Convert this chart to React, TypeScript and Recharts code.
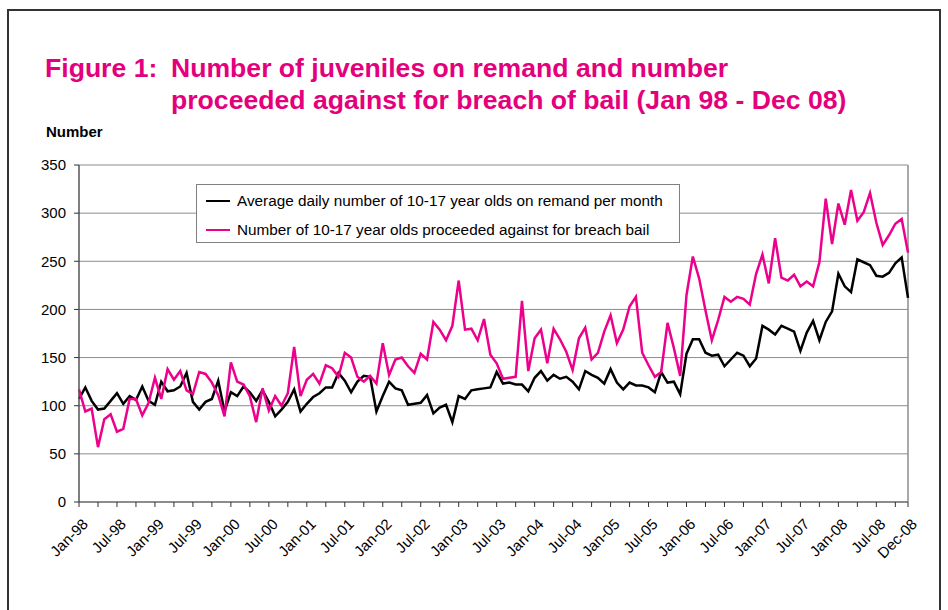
import { CartesianGrid, Legend, Line, LineChart, ReferenceLine, XAxis, YAxis } from "recharts";

/* monthly values, Jan-98 .. Dec-08 (132 months) */
const REMAND = [
  107, 119, 105, 96, 97, 105, 113, 102, 110, 106, 120, 105,
  101, 125, 115, 116, 120, 134, 104, 96, 104, 107, 126, 94,
  114, 110, 120, 114, 105, 116, 104, 89, 96, 104, 117, 94,
  102, 109, 113, 119, 119, 134, 126, 114, 125, 131, 130, 94,
  110, 125, 118, 116, 101, 102, 103, 111, 92, 98, 101, 83,
  110, 107, 116, 117, 118, 119, 135, 123, 124, 122, 122, 115,
  129, 136, 126, 132, 128, 130, 125, 117, 136, 132, 129, 123,
  138, 124, 117, 124, 121, 121, 119, 114, 135, 124, 125, 112,
  154, 169, 169, 155, 152, 153, 141, 148, 155, 152, 141, 149,
  183, 179, 174, 183, 180, 177, 157, 176, 188, 168, 187, 198,
  237, 224, 218, 252, 249, 246, 235, 234, 238, 248, 254, 212,
];

const BREACH = [
  117, 94, 97, 57, 86, 91, 73, 76, 107, 107, 90, 103,
  129, 107, 138, 127, 136, 116, 112, 135, 133, 124, 111, 89,
  145, 125, 122, 110, 83, 118, 95, 110, 100, 113, 161, 110,
  127, 133, 123, 142, 139, 130, 155, 150, 130, 125, 131, 123,
  165, 132, 148, 150, 141, 134, 154, 148, 187, 179, 168, 183,
  230, 179, 180, 168, 190, 153, 144, 128, 129, 130, 209, 136,
  170, 179, 144, 180, 169, 156, 137, 170, 181, 148, 155, 177,
  194, 165, 179, 203, 213, 155, 142, 130, 135, 186, 160, 131,
  215, 255, 232, 199, 168, 189, 213, 208, 213, 211, 205, 237,
  257, 227, 274, 233, 230, 236, 224, 229, 224, 249, 315, 268,
  310, 288, 324, 292, 301, 321, 290, 267, 277, 289, 294, 259,
];

const X_LABELS = [
  "Jan-98", "Jul-98", "Jan-99", "Jul-99", "Jan-00", "Jul-00", "Jan-01", "Jul-01",
  "Jan-02", "Jul-02", "Jan-03", "Jul-03", "Jan-04", "Jul-04", "Jan-05", "Jul-05",
  "Jan-06", "Jul-06", "Jan-07", "Jul-07", "Jan-08", "Jul-08", "Dec-08",
];
const X_LABEL_AT = [
  0, 6, 12, 18, 24, 30, 36, 42, 48, 54, 60, 66,
  72, 78, 84, 90, 96, 102, 108, 114, 120, 126, 131,
];
const Y_TICKS = [0, 50, 100, 150, 200, 250, 300, 350];

const FONT = '"Liberation Sans", Arial, Helvetica, sans-serif';
const PINK = "#EC008C";
const TITLE_PINK = "#E4007C";
const GRID = "#8c8c8c";

const data = REMAND.map((v, i) => ({ idx: i, remand: v, breach: BREACH[i] }));
const xTicks = [...Array.from({ length: 44 }, (_, k) => k * 3), 131];

function MonthTick(props: any) {
  const { x, y, payload } = props;
  const at = X_LABEL_AT.indexOf(payload.value);
  if (at < 0) return <g />;
  const ax = x + 10;
  const ay = y + 16;
  return (
    <text
      x={ax}
      y={ay}
      transform={`rotate(-45 ${ax} ${ay})`}
      textAnchor="end"
      fontSize={15}
      fontFamily={FONT}
      fill="#000"
    >
      {X_LABELS[at]}
    </text>
  );
}

function LegendBox() {
  const rows = [
    { color: "#000", text: "Average daily number of 10-17 year olds on remand per month" },
    { color: PINK, text: "Number of 10-17 year olds proceeded against for breach bail" },
  ];
  return (
    <div
      style={{
        width: 484,
        height: 59,
        boxSizing: "border-box",
        border: "1px solid #808080",
        background: "#fff",
        fontFamily: FONT,
        fontSize: 15.3,
        color: "#000",
        position: "relative",
      }}
    >
      {rows.map((r, i) => (
        <div
          key={i}
          style={{ position: "absolute", left: 9, top: 6 + i * 29, height: 20, display: "flex", alignItems: "center" }}
        >
          <span style={{ width: 24, height: 0, borderTop: `2.5px solid ${r.color}`, marginRight: 7 }} />
          <span style={{ whiteSpace: "nowrap" }}>{r.text}</span>
        </div>
      ))}
    </div>
  );
}

export default function App() {
  return (
    <div style={{ position: "absolute", left: 0, top: 0, width: 948, height: 610, background: "#fff", overflow: "hidden" }}>
      <LineChart width={948} height={610} data={data} margin={{ top: 165, right: 40, bottom: 48, left: 19 }}>
        <CartesianGrid vertical={false} stroke={GRID} strokeWidth={1} />
        <XAxis
          type="number"
          dataKey="idx"
          domain={[0, 131]}
          ticks={xTicks}
          interval={0}
          height={60}
          tickSize={5}
          tick={<MonthTick />}
          axisLine={{ stroke: "#7a7a7a", strokeWidth: 1.5 }}
          tickLine={{ stroke: "#333" }}
        />
        <YAxis
          domain={[0, 350]}
          ticks={Y_TICKS}
          interval={0}
          width={60}
          tickSize={5}
          tickMargin={8}
          axisLine={{ stroke: "#555", strokeWidth: 1.5 }}
          tickLine={{ stroke: "#333" }}
          tick={{ fontSize: 15, fontFamily: FONT, fill: "#000" }}
        />
        <ReferenceLine x={131} stroke={GRID} strokeWidth={1.5} />
        <Legend
          verticalAlign="middle"
          align="center"
          layout="horizontal"
          content={<LegendBox />}
          wrapperStyle={{ position: "absolute", left: 196, top: 184, width: 484, height: 59 }}
        />
        <Line
          type="linear"
          dataKey="remand"
          stroke="#000"
          strokeWidth={2.5}
          dot={false}
          isAnimationActive={false}
        />
        <Line
          type="linear"
          dataKey="breach"
          stroke={PINK}
          strokeWidth={2.5}
          dot={false}
          isAnimationActive={false}
        />
      </LineChart>
      <svg
        width={948}
        height={610}
        style={{ position: "absolute", left: 0, top: 0, pointerEvents: "none" }}
      >
        <rect x={8} y={10} width={932} height={700} fill="none" stroke="#333" strokeWidth={2} />
        <g fontFamily={FONT} fontWeight="bold" fill={TITLE_PINK} fontSize={26.6}>
          <text x={45} y={77}>Figure 1:</text>
          <text x={171} y={77}>Number of juveniles on remand and number</text>
          <text x={171} y={109}>proceeded against for breach of bail (Jan 98 - Dec 08)</text>
        </g>
        <text x={46} y={137} fontFamily={FONT} fontWeight="bold" fontSize={15} fill="#000">
          Number
        </text>
      </svg>
    </div>
  );
}
